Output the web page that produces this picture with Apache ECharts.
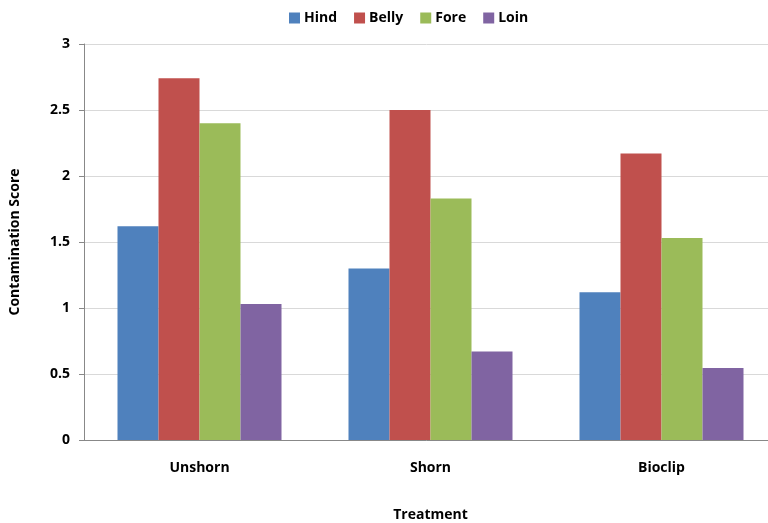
<!DOCTYPE html>
<html lang="en">
<head>
    <meta charset="utf-8"/>
    <script src="https://cdn.jsdelivr.net/npm/echarts@6/dist/echarts.min.js"></script>
</head>
<body style="margin: 0">
<div id="container" style="width: 768px;height:523px;"></div>
<script type="text/javascript">
    var categories = ['Unshorn', 'Shorn', 'Bioclip'];
    var hind = [1.62, 1.30, 1.12];
    var belly = [2.74, 2.50, 2.17];
    var fore = [2.40, 1.83, 1.53];
    var loin = [1.03, 0.67, 0.545];

    var myChart = echarts.init(document.getElementById('container'));
    var font = '"Open Sans", sans-serif';

    function bar(name, data, color) {
        return {
            name: name,
            type: 'bar',
            data: data,
            barGap: '0%',
            barCategoryGap: '29%',
            itemStyle: {color: color}
        };
    }

    var option = {
        animation: false,
        textStyle: {fontFamily: font},
        legend: {
            top: 6,
            left: 284,
            itemWidth: 11,
            itemHeight: 11,
            itemGap: 17,
            icon: 'rect',
            textStyle: {fontWeight: 'bold', fontSize: 14, color: '#000', fontFamily: font, padding: [0, 0, 0, -1]}
        },
        grid: {left: 84, width: 693, top: 44, bottom: 83, outerBoundsMode: 'none'},
        xAxis: {
            type: 'category',
            data: categories,
            name: 'Treatment',
            nameLocation: 'middle',
            nameGap: 68,
            nameTextStyle: {fontWeight: 'bold', fontSize: 14, color: '#000'},
            axisLine: {lineStyle: {color: '#888'}},
            axisTick: {length: 6, lineStyle: {color: '#888'}},
            axisLabel: {fontWeight: 'bold', fontSize: 14, color: '#000', margin: 21}
        },
        yAxis: {
            type: 'value',
            min: 0,
            max: 3,
            interval: 0.5,
            name: 'Contamination Score',
            nameLocation: 'middle',
            nameGap: 62,
            nameTextStyle: {fontWeight: 'bold', fontSize: 14, color: '#000'},
            axisLine: {show: true, lineStyle: {color: '#888'}},
            axisTick: {show: true, length: 5, lineStyle: {color: '#888'}},
            axisLabel: {fontWeight: 'bold', fontSize: 14, color: '#000', margin: 14},
            splitLine: {lineStyle: {color: '#d9d9d9'}}
        },
        series: [
            bar('Hind', hind, '#4F81BD'),
            bar('Belly', belly, '#C0504D'),
            bar('Fore', fore, '#9BBB59'),
            bar('Loin', loin, '#8064A2')
        ]
    };

    myChart.setOption(option);
</script>
</body>
</html>
